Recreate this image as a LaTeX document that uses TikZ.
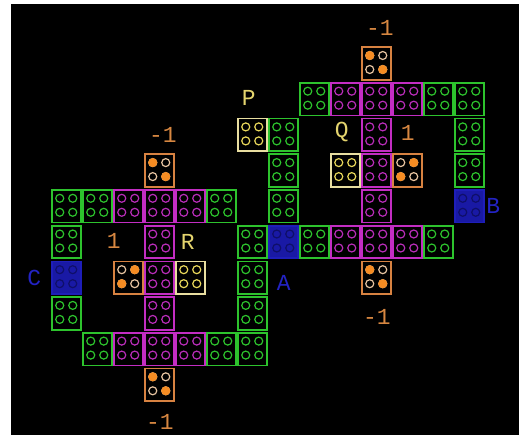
\documentclass[tikz,border=0pt]{standalone}
\usepackage{fontspec}
\newfontfamily\monofont{Liberation Mono}
\usetikzlibrary{positioning}

\definecolor{grnline}{RGB}{45,195,45}
\definecolor{grndot}{RGB}{45,195,45}
\definecolor{grnfill}{RGB}{0,0,0}
\definecolor{magline}{RGB}{195,45,195}
\definecolor{magdot}{RGB}{185,45,185}
\definecolor{magfill}{RGB}{0,0,0}
\definecolor{ylwline}{RGB}{232,222,160}
\definecolor{ylwdot}{RGB}{232,215,90}
\definecolor{ylwfill}{RGB}{0,0,0}
\definecolor{blueline}{RGB}{30,30,185}
\definecolor{bluedot}{RGB}{15,15,105}
\definecolor{bluefill}{RGB}{25,25,165}
\definecolor{orgline}{RGB}{215,130,65}
\definecolor{orghole}{RGB}{230,195,160}
\definecolor{orgdot}{RGB}{245,140,35}
\definecolor{lblorg}{RGB}{215,135,65}
\definecolor{lblylw}{RGB}{228,212,110}
\definecolor{lblblue}{RGB}{35,35,195}

% one tile: name, column, row, colour family
\newcommand{\brick}[4]{%
  \node[brick,draw=#4line,fill=#4fill] (#1) at ({66.75+31*#2},{63.5+35.7*#3}) {};
  \foreach \dx/\dy in {-7/-8,6/-8,-7/6,6/6}
    \draw[#4dot,stud] (#1.center) ++(\dx,\dy) circle[radius=4bp];
}
% orange tile: name, column, row, filled studs
\newcommand{\spin}[4]{%
  \node[brick,draw=orgline] (#1) at ({66.75+31*#2},{63.5+35.7*#3}) {};
  \foreach \dx/\dy in {-7/-8,6/-8,-7/6,6/6}
    \draw[orghole,stud] (#1.center) ++(\dx,\dy) circle[radius=4bp];
  \foreach \dx/\dy in {#4}
    \fill[orgdot] (#1.center) ++(\dx,\dy) circle[radius=4.6bp];
}

\begin{document}
\begin{tikzpicture}[x=1bp,y=-1bp,
  brick/.style={line width=1.7bp,minimum width=29bp,minimum height=32.5bp,inner sep=0pt},
  stud/.style={line width=1.2bp},
  lbl/.style={font=\monofont\fontsize{23}{23}\selectfont,inner sep=0pt}]
  \fill[white] (0,0) rectangle (519,435);
  \fill[black] (11,4) rectangle (519,435);
  \useasboundingbox (0,0) rectangle (519,435);

  % green tiles
  \foreach \c/\r in {0/4,1/4,5/4,0/5,0/7,1/8,5/8,6/8,6/5,6/6,6/7,
                     7/2,7/3,7/4,8/1,12/1,13/1,13/2,13/3,8/5,12/5}
    {\brick{g\c-\r}{\c}{\r}{grn}}
  % magenta tiles
  \foreach \c/\r in {2/4,3/4,4/4,3/5,3/6,3/7,2/8,3/8,4/8,
                     9/1,10/1,11/1,10/2,10/3,10/4,9/5,10/5,11/5}
    {\brick{m\c-\r}{\c}{\r}{mag}}
  % yellow tiles
  \brick{yP}{6}{2}{ylw}
  \brick{yQ}{9}{3}{ylw}
  \brick{yR}{4}{6}{ylw}
  % blue tiles
  \brick{bA}{7}{5}{blue}
  \brick{bB}{13}{4}{blue}
  \brick{bC}{0}{6}{blue}
  % orange tiles
  \spin{nL}{3}{3}{-7/-8,6/6}
  \spin{pL}{2}{6}{6/-8,-7/6}
  \spin{sL}{3}{9}{-7/-8,6/6}
  \spin{nR}{10}{0}{-7/-8,6/6}
  \spin{pR}{11}{3}{6/-8,-7/6}
  \spin{sR}{10}{6}{-7/-8,6/6}

  % labels
  \node[lbl,lblorg,above=11bp of nL,xshift=3bp] (tnL) {-1};
  \node[lbl,lblorg,below=12bp of sL] (tsL) {-1};
  \node[lbl,lblorg,above=11bp of nR,xshift=3bp] (tnR) {-1};
  \node[lbl,lblorg,below=14bp of sR] (tsR) {-1};
  \node[lbl,lblorg,above=12bp of pL,xshift=-15bp] (tpL) {1};
  \node[lbl,lblorg,above=13bp of pR] (tpR) {1};
  \node[lbl,lblylw,above=12bp of yP,xshift=-4bp] (tP) {P};
  \node[lbl,lblylw,above=11bp of yQ,xshift=-4bp] (tQ) {Q};
  \node[lbl,lblylw,above=11bp of yR,xshift=-3bp] (tR) {R};
  \node[lbl,lblblue,below=16bp of bA] (tA) {A};
  \node[lbl,lblblue,right=1bp of bB] (tB) {B};
  \node[lbl,lblblue,left=10bp of bC] (tC) {C};
\end{tikzpicture}
\end{document}
